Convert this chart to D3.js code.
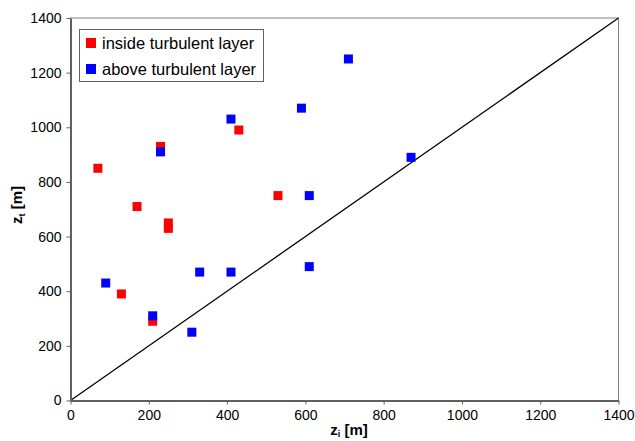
<!DOCTYPE html>
<html>
<head>
<meta charset="utf-8">
<script src="https://cdn.jsdelivr.net/npm/d3@7"></script>
<style>
  body { margin: 0; background: #fff; }
  svg { font-family: "Liberation Sans", Arial, sans-serif; }
</style>
</head>
<body>
<svg id="chart" width="635" height="441"></svg>
<script>
// z_i / z_t pairs
const insideZi = [70, 230, 430, 170, 250, 250, 130, 210, 530];
const insideZt = [850, 930, 990, 710, 650, 630, 390, 290, 750];
const aboveZi = [230, 410, 590, 710, 870, 610, 90, 330, 410, 610, 210, 310];
const aboveZt = [910, 1030, 1070, 1250, 890, 750, 430, 470, 470, 490, 310, 250];
const tickValues = [0, 200, 400, 600, 800, 1000, 1200, 1400];
const seriesNames = ['inside turbulent layer', 'above turbulent layer'];
const seriesColors = ['#ff0000', '#0000ff'];

const svg = d3.select('#chart');
const plotL = 70.5, plotR = 618.5, plotT = 18, plotB = 400.5;

const x = d3.scaleLinear().domain([0, 1400]).range([plotL, plotR]);
const y = d3.scaleLinear().domain([0, 1400]).range([plotB, plotT]);

// frame
svg.append('rect')
  .attr('x', plotL).attr('y', plotT)
  .attr('width', plotR - plotL).attr('height', plotB - plotT)
  .attr('fill', 'none').attr('stroke', '#808080').attr('stroke-width', 1);

// 1:1 line
svg.append('line')
  .attr('x1', x(0)).attr('y1', y(0))
  .attr('x2', x(1400)).attr('y2', y(1400))
  .attr('stroke', '#000').attr('stroke-width', 1.3);

const xAxis = svg.append('g')
  .attr('transform', `translate(0,${plotB})`)
  .call(d3.axisBottom(x).tickValues(tickValues).tickFormat(d3.format('d'))
    .tickSize(4).tickSizeOuter(0).tickPadding(6));
const yAxis = svg.append('g')
  .attr('transform', `translate(${plotL},0)`)
  .call(d3.axisLeft(y).tickValues(tickValues).tickFormat(d3.format('d'))
    .tickSize(4).tickSizeOuter(0).tickPadding(5));

[xAxis, yAxis].forEach(a => {
  a.attr('font-family', '"Liberation Sans", Arial, sans-serif');
  a.select('.domain').attr('stroke', '#606060').attr('stroke-width', 2);
  a.selectAll('.tick line').attr('stroke', '#606060');
  a.selectAll('.tick text').attr('font-size', 14).attr('fill', '#000');
});

function drawSeries(xs, ys, color) {
  svg.append('g').selectAll('rect')
    .data(xs.map((v, i) => [v, ys[i]]))
    .join('rect')
    .attr('x', d => x(d[0]) - 4.5)
    .attr('y', d => y(d[1]) - 4.5)
    .attr('width', 9).attr('height', 9)
    .attr('fill', color);
}
drawSeries(insideZi, insideZt, seriesColors[0]);
drawSeries(aboveZi, aboveZt, seriesColors[1]);

// axis titles
const xt = svg.append('text')
  .attr('x', 349).attr('y', 435)
  .attr('text-anchor', 'middle')
  .attr('font-size', 15).attr('font-weight', 'bold');
xt.append('tspan').text('z');
xt.append('tspan').attr('font-size', 9).attr('dy', 2).text('i');
xt.append('tspan').attr('dy', -2).text(' [m]');

const yt = svg.append('text')
  .attr('transform', 'translate(22,205) rotate(-90)')
  .attr('text-anchor', 'middle')
  .attr('font-size', 15).attr('font-weight', 'bold');
yt.append('tspan').text('z');
yt.append('tspan').attr('font-size', 9).attr('dy', 3).text('t');
yt.append('tspan').attr('dy', -3).text(' [m]');

// legend
const lg = svg.append('g');
lg.append('rect')
  .attr('x', 79.5).attr('y', 29.5).attr('width', 184).attr('height', 52)
  .attr('fill', '#fff').attr('stroke', '#606060').attr('stroke-width', 1);
seriesNames.forEach((name, i) => {
  const yy = 43 + i * 26;
  lg.append('rect')
    .attr('x', 86).attr('y', yy - 5).attr('width', 10).attr('height', 10)
    .attr('fill', seriesColors[i]);
  lg.append('text')
    .attr('x', 102).attr('y', yy + 6)
    .attr('font-size', 16.5).attr('fill', '#000')
    .text(name);
});
</script>
</body>
</html>
